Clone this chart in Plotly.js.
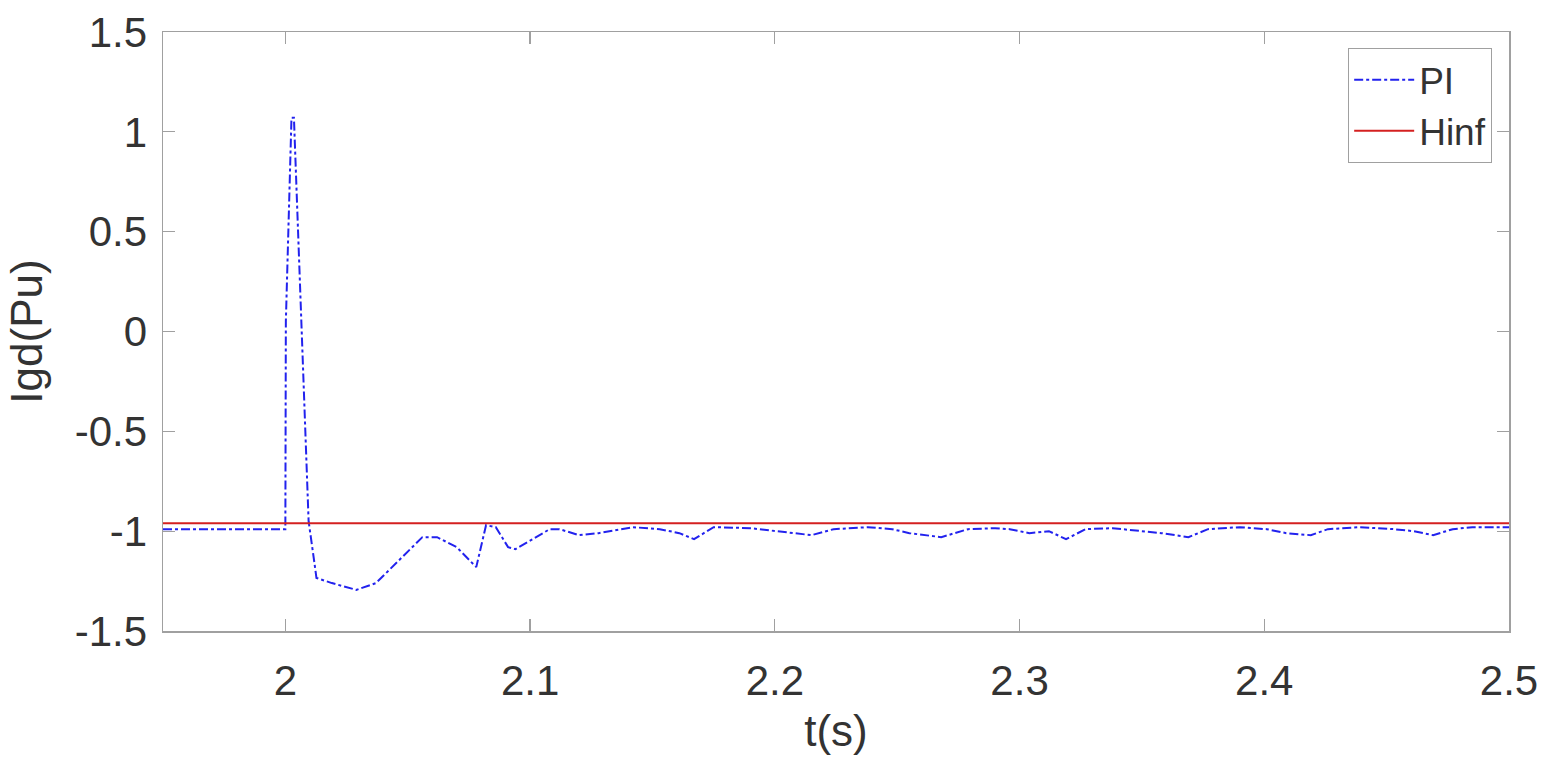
<!DOCTYPE html>
<html>
<head>
<meta charset="utf-8">
<script src="https://cdn.plot.ly/plotly-3.0.1.min.js"></script>
<style>
  html, body { margin: 0; padding: 0; background: #ffffff; }
  #chart { width: 1556px; height: 775px; }
</style>
</head>
<body>
<div id="chart"></div>
<script>
// PI controller response
var tPI = [1.95, 2.0, 2.0002, 2.0025, 2.0035, 2.0095, 2.012, 2.0127, 2.019, 2.029, 2.037,
    2.047, 2.056, 2.062, 2.070, 2.078, 2.082, 2.086, 2.091, 2.094, 2.101, 2.108,
    2.112, 2.120, 2.128, 2.142, 2.153, 2.161, 2.167, 2.175, 2.190, 2.201, 2.207,
    2.215, 2.224, 2.238, 2.248, 2.255, 2.268, 2.279, 2.290, 2.296, 2.304, 2.312,
    2.319, 2.327, 2.338, 2.350, 2.358, 2.369, 2.377, 2.390, 2.401, 2.409, 2.419,
    2.426, 2.439, 2.453, 2.461, 2.469, 2.477, 2.485, 2.5];
var iPI = [-0.99, -0.99, 0.05, 1.07, 1.07, -0.95, -1.17, -1.234, -1.26, -1.294, -1.26,
    -1.14, -1.03, -1.03, -1.08, -1.18, -0.97, -0.98, -1.08, -1.09, -1.04, -0.99,
    -0.99, -1.02, -1.01, -0.98, -0.99, -1.01, -1.04, -0.98, -0.985, -1.0, -1.01,
    -1.02, -0.99, -0.98, -0.99, -1.01, -1.03, -0.99, -0.985, -0.99, -1.01, -1.0,
    -1.04, -0.99, -0.985, -1.0, -1.01, -1.03, -0.99, -0.98, -0.99, -1.01, -1.02,
    -0.99, -0.98, -0.99, -1.0, -1.02, -0.99, -0.98, -0.98];

// Hinf controller response
var tHinf = [1.95, 2.5];
var iHinf = [-0.96, -0.96];

var xTicks = [2, 2.1, 2.2, 2.3, 2.4, 2.5];
var xTickText = ['2', '2.1', '2.2', '2.3', '2.4', '2.5'];
var yTicks = [-1.5, -1, -0.5, 0, 0.5, 1, 1.5];
var yTickText = ['-1.5', '-1', '-0.5', '0', '0.5', '1', '1.5'];

var font = 'Liberation Sans, Arial, sans-serif';
var textColor = '#333333';

var data = [
    {
        type: 'scatter',
        mode: 'lines',
        name: 'PI',
        x: tPI,
        y: iPI,
        line: { color: '#2222ee', width: 2, dash: 'dashdot' }
    },
    {
        type: 'scatter',
        mode: 'lines',
        name: 'Hinf',
        x: tHinf,
        y: iHinf,
        line: { color: '#d42020', width: 2 }
    }
];

var axisCommon = {
    showgrid: false,
    zeroline: false,
    showline: true,
    mirror: 'ticks',
    linecolor: '#a0a0a0',
    linewidth: 1.5,
    ticks: 'inside',
    ticklen: 12,
    tickwidth: 1.2,
    tickcolor: '#a0a0a0',
    tickfont: { family: font, size: 42, color: textColor }
};

var layout = {
    width: 1556,
    height: 775,
    margin: { l: 163, r: 47, t: 32, b: 144 },
    paper_bgcolor: '#ffffff',
    plot_bgcolor: '#ffffff',
    showlegend: true,
    legend: {
        x: 0.9875,
        y: 0.973,
        xanchor: 'right',
        yanchor: 'top',
        bgcolor: '#ffffff',
        bordercolor: '#a0a0a0',
        borderwidth: 1,
        itemwidth: 60,
        font: { family: font, size: 37, color: textColor },
        tracegroupgap: 0
    },
    xaxis: Object.assign({}, axisCommon, {
        range: [1.95, 2.5],
        tickvals: xTicks,
        ticktext: xTickText,
        ticklabelstandoff: 12,
        title: { text: 't(s)', font: { family: font, size: 44, color: textColor }, standoff: 12 }
    }),
    yaxis: Object.assign({}, axisCommon, {
        range: [-1.5, 1.5],
        tickvals: yTicks,
        ticktext: yTickText,
        ticklabelstandoff: 6,
        title: { text: 'Igd(Pu)', font: { family: font, size: 44, color: textColor }, standoff: 18 }
    })
};

Plotly.newPlot('chart', data, layout, { displayModeBar: false, staticPlot: true });
</script>
</body>
</html>
